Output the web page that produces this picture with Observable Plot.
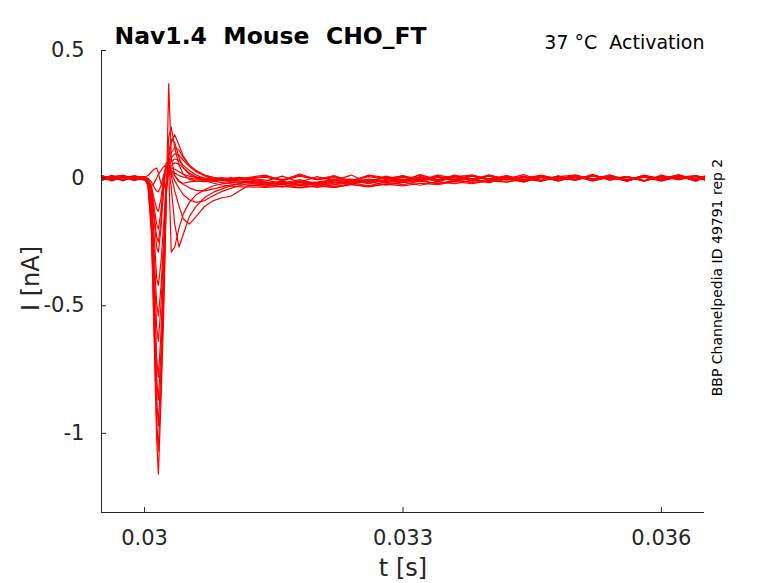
<!DOCTYPE html>
<html><head><meta charset="utf-8">
<script src="https://cdn.jsdelivr.net/npm/d3@7"></script>
<script src="https://cdn.jsdelivr.net/npm/@observablehq/plot@0.6"></script>
<style>body{margin:0;background:#fff;} #chart{width:778px;height:583px;}</style>
</head><body><div id="chart"></div>
<script>
const time = [0.0295, 0.02962, 0.02975, 0.02988, 0.03000,
  0.03004, 0.03008, 0.03011, 0.03014, 0.03016, 0.03019, 0.03022, 0.03025, 0.03028, 0.03031, 0.03035, 0.0304, 0.03045, 0.03052, 0.0306, 0.0307, 0.0308, 0.0309, 0.031, 0.0311, 0.0312,
  0.0314, 0.0316, 0.0318, 0.032, 0.0322, 0.0324, 0.0326, 0.0328, 0.033, 0.0332, 0.0334, 0.0336, 0.0338, 0.034, 0.0342, 0.0344, 0.0346, 0.0348, 0.035, 0.0352, 0.0354, 0.0356, 0.0358, 0.036, 0.0362, 0.0364, 0.0365];

const sweepT1 = [0.01, -0.008, 0.006, -0.004, 0.0,
  -0.03, -0.22, -0.62, -1.02, -1.16, -0.88, -0.55, -0.12, 0.37, 0.08, 0.01, -0.015, -0.02, -0.015, -0.012, -0.01, -0.006, -0.004, 0.002, -0.003, 0.002,
  0.012, -0.01, 0.016, -0.006, 0.01, -0.014, 0.012, 0.002, -0.01, 0.014, -0.006, 0.01, -0.012, 0.012, -0.004, 0.014, -0.01, 0.008, -0.008, 0.015, -0.008, 0.006, -0.012, 0.012, -0.006, 0.01, 0.002];
const sweepT2 = [-0.006, 0.01, -0.01, 0.008, 0.002,
  -0.03, -0.2, -0.57, -0.94, -1.07, -0.82, -0.5, -0.1, 0.16, 0.2, 0.12, 0.05, 0.015, -0.005, -0.012, -0.014, -0.01, -0.008, -0.004, 0.002, -0.004,
  -0.012, 0.008, -0.016, 0.006, -0.01, 0.012, -0.018, 0.008, -0.008, 0.012, -0.016, 0.006, 0.012, -0.01, 0.008, -0.014, 0.01, -0.004, 0.012, -0.008, 0.008, -0.012, 0.012, -0.004, 0.014, -0.008, 0.004];
const sweepT3 = [0.004, -0.011, 0.008, 0.0, -0.006,
  -0.025, -0.18, -0.52, -0.86, -0.97, -0.75, -0.45, -0.08, 0.1, 0.15, 0.14, 0.08, 0.04, 0.015, 0.0, -0.008, -0.012, -0.01, -0.007, -0.004, 0.0,
  -0.008, -0.02, -0.006, -0.024, -0.01, -0.004, -0.018, 0.006, -0.012, 0.004, -0.01, 0.012, -0.006, 0.008, -0.016, 0.002, 0.01, -0.012, 0.006, -0.006, 0.012, -0.01, 0.006, -0.004, 0.01, -0.012, 0.006];
const sweepT4 = [-0.01, 0.006, 0.011, -0.008, 0.004,
  -0.02, -0.16, -0.46, -0.78, -0.87, -0.68, -0.4, -0.06, 0.08, 0.14, 0.17, 0.13, 0.085, 0.05, 0.025, 0.01, 0.003, -0.002, -0.005, -0.006, -0.006,
  -0.016, -0.024, -0.012, -0.03, -0.02, -0.008, -0.022, -0.006, -0.016, 0.004, -0.012, 0.008, -0.004, -0.014, 0.006, -0.008, 0.012, -0.004, 0.008, -0.012, 0.004, -0.006, 0.01, -0.008, 0.006, 0.0, -0.004];
const sweepT5 = [0.008, 0.0, -0.008, 0.01, -0.002,
  -0.02, -0.14, -0.41, -0.7, -0.78, -0.61, -0.36, -0.05, 0.06, 0.1, 0.12, 0.11, 0.08, 0.05, 0.03, 0.012, 0.002, -0.005, -0.009, -0.011, -0.012,
  -0.024, -0.016, -0.03, -0.02, -0.032, -0.022, -0.014, -0.028, -0.018, -0.008, -0.022, -0.012, -0.004, -0.018, 0.004, -0.01, 0.008, -0.006, 0.01, -0.008, 0.004, -0.012, 0.008, -0.004, 0.012, -0.006, 0.004];
const sweepT6 = [-0.004, 0.011, -0.006, 0.004, 0.0,
  -0.015, -0.12, -0.34, -0.58, -0.64, -0.5, -0.3, -0.04, 0.05, 0.08, 0.095, 0.09, 0.07, 0.045, 0.025, 0.008, -0.004, -0.01, -0.014, -0.016, -0.018,
  -0.028, -0.034, -0.024, -0.036, -0.026, -0.018, -0.03, -0.016, -0.026, -0.012, -0.022, -0.008, -0.018, -0.012, 0.002, -0.016, 0.004, -0.008, 0.008, -0.004, 0.006, -0.01, 0.004, -0.006, 0.008, -0.012, 0.002];
const sweepT7 = [0.01, -0.004, 0.006, -0.01, 0.004,
  -0.012, -0.1, -0.28, -0.49, -0.54, -0.43, -0.25, -0.03, 0.04, 0.065, 0.075, 0.07, 0.05, 0.03, 0.012, -0.002, -0.012, -0.018, -0.022, -0.025, -0.027,
  -0.032, -0.026, -0.036, -0.028, -0.036, -0.024, -0.032, -0.022, -0.016, -0.028, -0.014, -0.022, -0.01, -0.016, -0.004, -0.014, 0.002, -0.01, 0.006, -0.006, 0.008, -0.008, 0.004, -0.012, 0.006, -0.004, 0.008];
const sweepT8 = [-0.008, 0.004, 0.01, -0.006, 0.006,
  -0.01, -0.08, -0.22, -0.39, -0.42, -0.33, -0.19, -0.02, 0.03, 0.05, 0.06, 0.055, 0.04, 0.02, 0.005, -0.01, -0.02, -0.027, -0.031, -0.033, -0.034,
  -0.036, -0.032, -0.038, -0.03, -0.036, -0.026, -0.034, -0.024, -0.03, -0.02, -0.026, -0.014, -0.022, -0.01, -0.016, -0.004, -0.012, 0.004, -0.008, 0.008, -0.004, 0.006, -0.01, 0.004, -0.006, 0.008, 0.0];
const sweepS1 = [0.006, -0.01, 0.004, 0.008, -0.004,
  -0.008, -0.06, -0.16, -0.27, -0.29, -0.2, -0.05, 0.05, 0.03, -0.29, -0.27, -0.195, -0.14, -0.095, -0.065, -0.045, -0.03, -0.022, -0.018, -0.015, -0.012,
  -0.02, -0.012, -0.024, -0.016, -0.006, -0.02, -0.01, 0.0, -0.014, 0.006, -0.01, 0.008, -0.004, 0.012, -0.008, 0.004, -0.012, 0.008, -0.004, 0.01, -0.008, 0.006, -0.01, 0.004, 0.008, -0.006, 0.002];
const sweepS2 = [-0.004, 0.008, -0.008, 0.002, 0.006,
  -0.006, -0.05, -0.14, -0.23, -0.25, -0.17, -0.03, 0.06, 0.05, -0.04, -0.18, -0.27, -0.22, -0.15, -0.11, -0.075, -0.055, -0.042, -0.03, -0.022, -0.015,
  -0.018, -0.026, -0.016, -0.022, -0.01, -0.02, -0.006, -0.014, 0.004, -0.01, 0.008, -0.006, 0.01, -0.004, 0.006, -0.012, 0.004, -0.008, 0.01, -0.004, 0.008, -0.01, 0.006, -0.004, 0.01, -0.008, 0.004];
const sweepS3 = [0.01, -0.002, 0.006, -0.008, 0.0,
  -0.005, -0.04, -0.11, -0.18, -0.2, -0.13, -0.02, 0.05, 0.05, 0.01, -0.05, -0.11, -0.16, -0.18, -0.15, -0.11, -0.088, -0.077, -0.071, -0.05, -0.03,
  -0.026, -0.022, -0.018, -0.026, -0.016, -0.022, -0.01, -0.018, -0.004, -0.014, 0.004, -0.008, 0.008, -0.006, 0.006, -0.01, 0.01, -0.004, 0.006, -0.008, 0.004, -0.012, 0.008, -0.006, 0.004, 0.01, -0.004];
const sweepS4 = [-0.006, 0.004, 0.01, -0.004, 0.004,
  -0.003, -0.03, -0.08, -0.12, -0.13, -0.08, 0.0, 0.05, 0.045, 0.02, -0.01, -0.04, -0.065, -0.085, -0.095, -0.088, -0.068, -0.052, -0.04, -0.03, -0.022,
  -0.024, -0.02, -0.028, -0.018, -0.024, -0.012, -0.02, -0.008, -0.016, 0.0, -0.012, 0.006, -0.008, 0.01, -0.004, 0.004, -0.012, 0.008, -0.006, 0.012, -0.004, 0.006, -0.01, 0.008, -0.002, 0.006, -0.008];
const sweepS5 = [0.004, 0.006, -0.01, 0.008, -0.006,
  0.0, -0.015, -0.035, -0.05, -0.054, -0.03, 0.01, 0.04, 0.045, 0.03, 0.01, -0.01, -0.025, -0.038, -0.048, -0.05, -0.042, -0.034, -0.027, -0.021, -0.016,
  -0.018, -0.024, -0.012, -0.018, -0.008, -0.016, -0.004, -0.012, 0.006, -0.008, 0.004, -0.01, 0.008, -0.004, 0.01, -0.006, 0.004, -0.01, 0.006, -0.004, 0.012, -0.006, 0.004, -0.008, 0.006, -0.004, 0.008];
const sweepP1 = [-0.008, 0.008, -0.004, 0.006, 0.004,
  0.01, 0.025, 0.035, 0.04, 0.02, -0.02, -0.04, -0.02, 0.02, 0.04, 0.035, 0.025, 0.015, 0.008, 0.004, 0.0, -0.003, 0.002, -0.004, 0.003, -0.002,
  0.008, -0.006, 0.012, -0.004, 0.006, -0.01, 0.01, -0.002, 0.008, -0.008, 0.012, 0.0, -0.006, 0.01, -0.004, 0.008, -0.008, 0.006, 0.012, -0.004, 0.008, -0.006, 0.01, -0.002, 0.006, -0.008, 0.004];
const sweepP2 = [0.002, -0.006, 0.011, -0.002, -0.008,
  -0.015, -0.03, -0.02, 0.0, 0.015, 0.03, 0.045, 0.05, 0.04, 0.03, 0.02, 0.01, 0.004, 0.0, -0.004, -0.006, -0.008, -0.006, -0.004, 0.002, -0.003,
  0.004, -0.01, 0.008, -0.006, 0.002, -0.012, 0.006, -0.004, 0.01, -0.008, 0.004, -0.006, 0.012, -0.004, 0.006, -0.01, 0.008, 0.0, -0.008, 0.01, -0.004, 0.006, -0.012, 0.008, -0.004, 0.01, -0.006];

const sweeps = [sweepP1, sweepP2, sweepS5, sweepS4, sweepS3, sweepS2, sweepS1, sweepT8, sweepT7, sweepT6, sweepT5, sweepT4, sweepT3, sweepT2, sweepT1];

const xTicks = [0.03, 0.033, 0.036];
const yTicks = [-1, -0.5, 0, 0.5];
const xDomain = [0.0295, 0.0365];
const yDomain = [-1.31, 0.5];
const titleText = "Nav1.4  Mouse  CHO_FT";
const conditionText = "37 °C  Activation";
const sideText = "BBP Channelpedia ID 49791 rep 2";
const xLabel = "t [s]";
const yLabel = "I [nA]";

const rows = sweeps.flatMap((s, k) => s.map((v, i) => ({t: time[i], I: v, sweep: k})));

const plot = Plot.plot({
  width: 778, height: 583,
  marginLeft: 101, marginRight: 74, marginTop: 50, marginBottom: 71,
  style: {fontFamily: "DejaVu Sans", background: "white", color: "#262626", overflow: "visible"},
  x: {domain: xDomain},
  y: {domain: yDomain},
  marks: [
    Plot.line(rows, {x: "t", y: "I", z: "sweep", stroke: "#ff0000", strokeWidth: 1.2}),
    Plot.ruleX([xDomain[0]], {stroke: "#262626", strokeWidth: 1}),
    Plot.ruleY([yDomain[0]], {stroke: "#262626", strokeWidth: 1}),
    Plot.axisX(xTicks, {tickSize: -5, tickPadding: 23, fontSize: 21, tickFormat: d => String(d), label: null}),
    Plot.axisY(yTicks, {tickSize: -5, tickPadding: 22, fontSize: 21, tickFormat: d => String(d), label: null}),
    Plot.text([xLabel], {text: d => d, frameAnchor: "bottom", dy: 63, textAnchor: "middle", lineAnchor: "bottom", fontSize: 24, fill: "#262626"}),
    Plot.text([yLabel], {text: d => d, frameAnchor: "left", dx: -70, dy: -3, rotate: -90, textAnchor: "middle", lineAnchor: "middle", fontSize: 24, fill: "#262626"}),
    Plot.text([titleText], {text: d => d, frameAnchor: "top-left", dx: 13, dy: -7, textAnchor: "start", lineAnchor: "bottom", fontSize: 23.5, fontWeight: "bold", fill: "black"}),
    Plot.text([conditionText], {text: d => d, frameAnchor: "top-right", dy: -2, textAnchor: "end", lineAnchor: "bottom", fontSize: 19, fill: "black"}),
    Plot.text([sideText], {text: d => d, frameAnchor: "right", dx: 13, dy: -4, rotate: -90, textAnchor: "middle", lineAnchor: "middle", fontSize: 14, fill: "black"})
  ]
});
document.getElementById("chart").appendChild(plot);
</script>
</body></html>
